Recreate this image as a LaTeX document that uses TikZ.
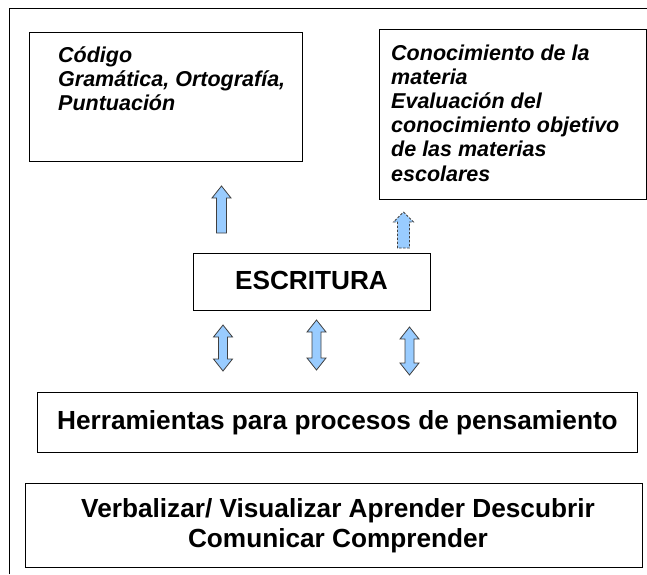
\documentclass[tikz,border=0pt]{standalone}
\usepackage{fontspec}
\setmainfont{Liberation Sans}
\definecolor{arrowfill}{HTML}{99CCFF}
\definecolor{arrowline}{HTML}{404040}
\newcommand\UpBlock[7][]{%
  \draw[blockarrow,#1] (#2,#3) -- (#2+#5,#3+#7) -- (#2+#6,#3+#7) -- (#2+#6,#4)
     -- (#2-#6,#4) -- (#2-#6,#3+#7) -- (#2-#5,#3+#7) -- cycle;}
\newcommand\DblBlock[6]{%
  \draw[blockarrow] (#1,#2) -- (#1+#4,#2+#6) -- (#1+#5,#2+#6) -- (#1+#5,#3-#6)
     -- (#1+#4,#3-#6) -- (#1,#3) -- (#1-#4,#3-#6) -- (#1-#5,#3-#6)
     -- (#1-#5,#2+#6) -- (#1-#4,#2+#6) -- cycle;}
\begin{document}
\begin{tikzpicture}[x=1pt,y=-1pt,
  box/.style={draw, line width=1pt, inner sep=0pt, anchor=north west},
  toptext/.style={inner sep=0pt, anchor=base west, align=left,
    font=\fontsize{21.5}{24.2}\selectfont\bfseries\itshape},
  bigtext/.style={inner sep=0pt, align=center,
    font=\fontsize{26.2}{30}\selectfont\bfseries},
  blockarrow/.style={fill=arrowfill, draw=arrowline, line width=0.8pt, line join=miter}]
\useasboundingbox (0,0) rectangle (647,574);
\draw[line width=1pt] (9,574) -- (9,8) -- (647,8);
% top boxes
\node[box, minimum width=273pt, minimum height=129pt] (codigo) at (29,32) {};
\node[toptext] (codigotxt) at (58,110.4) {Código\\Gramática, Ortografía,\\Puntuación};
\node[box, minimum width=267pt, minimum height=170pt] (materia) at (379,29) {};
\node[toptext] (materiatxt) at (391,181) {Conocimiento de la\\materia\\Evaluación del\\conocimiento objetivo\\de las materias\\escolares};
% middle
\node[box, minimum width=237pt, minimum height=57pt] (escritura) at (193,253) {};
\node[bigtext] (escrituratxt) at (311.5,280) {ESCRITURA};
% lower boxes
\node[box, minimum width=600pt, minimum height=60pt] (herr) at (37,392) {};
\node[bigtext] (herrtxt) at (herr.center) {Herramientas para procesos de pensamiento};
\node[box, minimum width=617pt, minimum height=84pt] (verb) at (25,483) {};
\node[bigtext] (verbtxt) at ([xshift=4pt]verb.center) {Verbalizar/ Visualizar Aprender Descubrir\\Comunicar Comprender};
% arrows
\UpBlock{221.5}{186}{233}{9.5}{5}{12}
\UpBlock[dashed, dash pattern=on 2.5pt off 1.5pt]{403.5}{212}{248}{10}{6}{10}
\DblBlock{223}{325}{371}{9.5}{4.5}{12}
\DblBlock{316.5}{320}{370}{9.5}{4.5}{12}
\DblBlock{409.5}{327}{375}{9.5}{4.5}{12}
\end{tikzpicture}
\end{document}
